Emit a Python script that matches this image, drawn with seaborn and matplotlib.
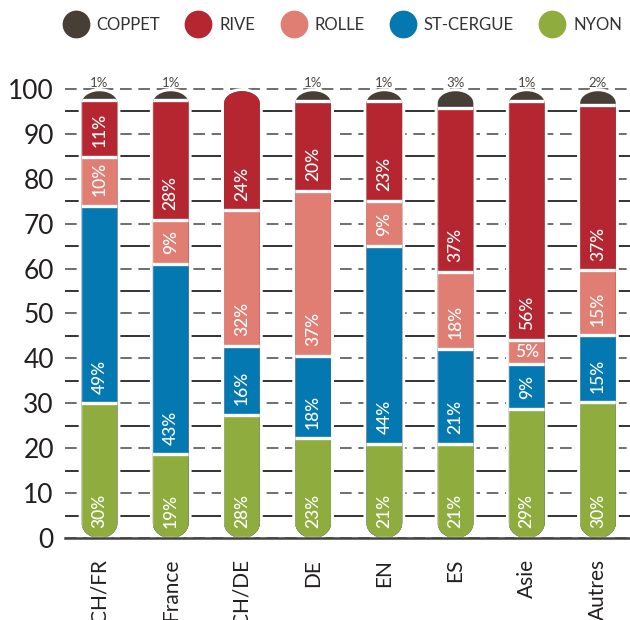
import numpy as np
import matplotlib
matplotlib.use("Agg")
import matplotlib.pyplot as plt
import seaborn as sns
from matplotlib.path import Path
from matplotlib.patches import PathPatch
from matplotlib.lines import Line2D

# ---------------- data ----------------
categories = ["CH/FR", "France", "CH/DE", "DE", "EN", "ES", "Asie", "Autres"]
series_names = ["COPPET", "RIVE", "ROLLE", "ST-CERGUE", "NYON"]

# segment heights (as drawn)
nyon = [30.0, 18.6, 27.5, 22.2, 21.0, 21.0, 28.7, 30.2]
stcergue = [43.9, 42.4, 15.3, 18.3, 44.1, 21.1, 10.0, 14.9]
rolle = [11.0, 9.9, 30.2, 36.8, 10.0, 17.2, 5.4, 14.5]
rive = [12.6, 26.6, 26.5, 20.1, 22.3, 36.5, 53.2, 36.9]
coppet = [2.0, 2.0, 0.0, 2.1, 2.1, 3.7, 2.2, 3.0]

# printed labels (%)
nyon_lbl = [30, 19, 28, 23, 21, 21, 29, 30]
stcergue_lbl = [49, 43, 16, 18, 44, 21, 9, 15]
rolle_lbl = [10, 9, 32, 37, 9, 18, 5, 15]
rive_lbl = [11, 28, 24, 20, 23, 37, 56, 37]
coppet_lbl = [1, 1, None, 1, 1, 3, 1, 2]

yticks = list(range(0, 101, 10))

colors = {"COPPET": "#473f36", "RIVE": "#b62630", "ROLLE": "#e07e73",
          "ST-CERGUE": "#0479b1", "NYON": "#8fad3e"}

# ---------------- style ----------------
sns.set_theme(style="white")
plt.rcParams["font.family"] = ["Lato", "DejaVu Sans"]
plt.rcParams["font.style"] = "normal"

W, H = 630, 620
fig = plt.figure(figsize=(W / 100, H / 100), dpi=100)
ax = fig.add_axes([65 / W, 82 / H, 1 - 65 / W, 453.5 / H])

n = len(categories)
segs_bottom_up = [("NYON", nyon, nyon_lbl), ("ST-CERGUE", stcergue, stcergue_lbl),
                  ("ROLLE", rolle, rolle_lbl), ("RIVE", rive, rive_lbl),
                  ("COPPET", coppet, coppet_lbl)]
cums = np.cumsum(np.array([s[1] for s in segs_bottom_up]), axis=0)
totals = cums[-1]

ax.set_xlim(-0.485, 7.45)
ax.set_ylim(0, 101)

px_per_y = 453.5 / 101
rx = 0.25
ry_top = 12 / px_per_y
ry_bot = 15 / px_per_y


def capsule(xc, top, hw=rx):
    t = np.linspace(0, np.pi, 40)
    bx = xc - hw * np.cos(t)
    by = ry_bot - ry_bot * np.sin(t)
    tx = xc + hw * np.cos(t)
    ty = (top - ry_top) + ry_top * np.sin(t)
    verts = np.concatenate([np.column_stack([bx, by]), np.column_stack([tx, ty])])
    verts = np.vstack([verts, verts[:1]])
    codes = [Path.MOVETO] + [Path.LINETO] * (len(verts) - 2) + [Path.CLOSEPOLY]
    return Path(verts, codes)


clips = []
for i in range(n):
    p = capsule(i, totals[i])
    under = PathPatch(p, facecolor="white", edgecolor="white", lw=4.4,
                      transform=ax.transData, zorder=1.5)
    ax.add_patch(under)
    clip = PathPatch(p, transform=ax.transData, facecolor="none", edgecolor="none")
    clips.append(clip)

for k in range(len(segs_bottom_up) - 1, -1, -1):
    name = segs_bottom_up[k][0]
    before = len(ax.patches)
    sns.barplot(x=categories, y=cums[k], order=categories, color=colors[name],
                width=0.56, errorbar=None, edgecolor="white", linewidth=2.4,
                saturation=1, ax=ax, zorder=2)
    new = ax.patches[before:]
    for i, patch in enumerate(new):
        patch.set_clip_path(clips[i])
        patch.set_zorder(2)
        if abs(cums[k][i] - totals[i]) < 1e-6:
            patch.set_linewidth(0)

ax.set_xlim(-0.485, 7.45)
ax.set_ylim(0, 101)

lab_kw = dict(color="white", fontsize=12.5, fontweight="medium", fontstyle="normal", zorder=5)
for k, (name, vals, lbls) in enumerate(segs_bottom_up[:-1]):
    for i in range(n):
        lab = lbls[i]
        if lab is None:
            continue
        bottom = cums[k][i] - vals[i]
        if vals[i] < 8:
            ax.annotate(f"{lab}%", xy=(i, bottom + vals[i] / 2), ha="center", va="center",
                        **lab_kw)
        else:
            ax.annotate(f"{lab}%", xy=(i, bottom), xytext=(0, 7), textcoords="offset points",
                        rotation=90, ha="center", va="bottom", **lab_kw)

for i in range(n):
    if coppet_lbl[i] is None:
        continue
    ax.annotate(f"{coppet_lbl[i]}%", xy=(i, totals[i]), xytext=(0, 3),
                textcoords="offset points", ha="center", va="baseline",
                color="#4a4540", fontsize=9.5, fontstyle="normal", zorder=5,
                annotation_clip=False)

ax.set_yticks(yticks)
ax.set_yticks(list(range(5, 100, 10)), minor=True)
ax.grid(False)
ax.yaxis.grid(True, which="major", color="#555555", lw=1.2, linestyle=(0, (7, 4)), zorder=0)
ax.yaxis.grid(True, which="minor", color="#333333", lw=1.4, linestyle="-", zorder=0)
ax.set_axisbelow(True)

for s in ["left", "top", "right"]:
    ax.spines[s].set_visible(False)
ax.spines["bottom"].set_color("#444444")
ax.spines["bottom"].set_linewidth(1.8)
ax.spines["bottom"].set_zorder(3)

ax.tick_params(axis="y", which="both", length=0, pad=8, labelsize=19, labelcolor="#231f20")
ax.tick_params(axis="x", length=0, pad=15, labelsize=15, labelcolor="#231f20")
ax.set_xticks(range(n))
ax.set_xticklabels(categories, rotation=90, va="top", ha="center")
ax.set_xlabel("")
ax.set_ylabel("")

handles = [Line2D([0], [0], marker="o", linestyle="none", markersize=20,
                  markerfacecolor=colors[nm], markeredgecolor="none") for nm in series_names]
fig.legend(handles, series_names, loc="center", bbox_to_anchor=(0.543, 0.96), ncol=5,
           frameon=False, fontsize=12, handlelength=1.6, handletextpad=0.45,
           columnspacing=1.5, labelcolor="#333333")

fig.savefig("out.png", dpi=100, facecolor="white")
